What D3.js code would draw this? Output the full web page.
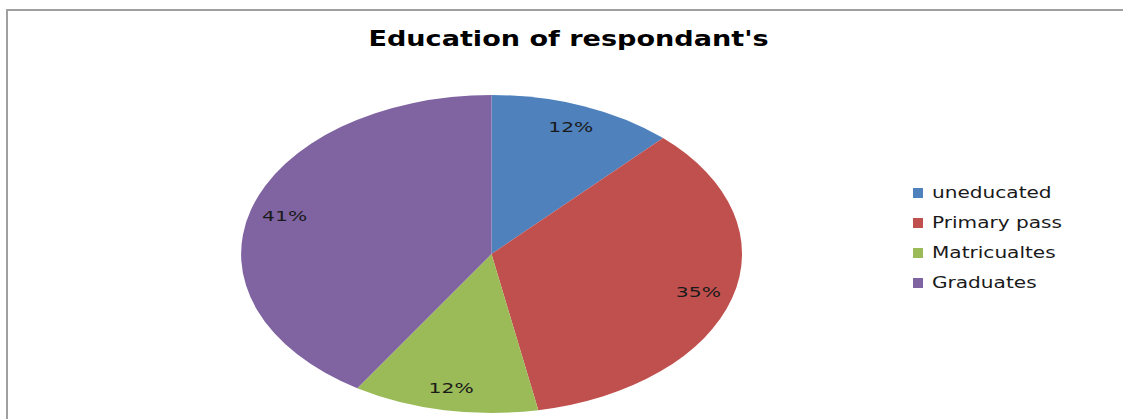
<!DOCTYPE html>
<html>
<head>
<meta charset="utf-8">
<script src="https://cdn.jsdelivr.net/npm/d3@7"></script>
<style>
  body { margin: 0; background: #fff; }
  svg { display: block; }
</style>
</head>
<body>
<div id="chart"></div>
<script>
const categories = ['uneducated', 'Primary pass', 'Matricualtes', 'Graduates']
const values = [12, 35, 12, 41]
const colors = ['#4F81BD', '#C0504D', '#9BBB59', '#8064A2']

const width = 1123
const height = 419
const cx = 491.5, cy = 254
const rx = 250.5, ry = 159
// the original picture is stretched sideways, text included
const stretch = 1.34

const svg = d3.select('#chart').append('svg')
    .attr('width', width)
    .attr('height', height)

// chart frame
svg.append('rect')
    .attr('x', 7)
    .attr('y', 10)
    .attr('width', width + 20)
    .attr('height', height + 20)
    .attr('fill', '#fff')
    .attr('stroke', '#a0a0a0')
    .attr('stroke-width', 2)

svg.append('text')
    .attr('transform', `translate(568.5,46) scale(1.29,1)`)
    .attr('text-anchor', 'middle')
    .style('font-family', 'DejaVu Sans, Verdana, sans-serif')
    .style('font-weight', 'bold')
    .style('font-size', '21px')
    .text("Education of respondant's")

const pie = d3.pie().sort(null).value(d => d)
const arcs = pie(values)
const arc = d3.arc().innerRadius(0).outerRadius(1)
const labelArc = d3.arc().innerRadius(0.86).outerRadius(0.86)

// pie drawn on a unit circle, then stretched into the plot area's ellipse
const g = svg.append('g')
    .attr('transform', `translate(${cx},${cy}) scale(${rx},${ry})`)

g.selectAll('.slice')
    .data(arcs)
    .enter()
    .append('path')
    .attr('class', 'slice')
    .attr('d', arc)
    .attr('fill', (d, i) => colors[i])

svg.selectAll('.pct')
    .data(arcs)
    .enter()
    .append('text')
    .attr('class', 'pct')
    .attr('transform', d => {
      let c = labelArc.centroid(d)
      return `translate(${cx + c[0] * rx},${cy + c[1] * ry + 5}) scale(1.45,1)`
    })
    .attr('text-anchor', 'middle')
    .style('font-family', 'DejaVu Sans, Verdana, sans-serif')
    .style('font-size', '14px')
    .style('fill', '#1a1a1a')
    .text(d => d.data + '%')

const legend = svg.selectAll('.legend')
    .data(categories)
    .enter()
    .append('g')
    .attr('class', 'legend')
    .attr('transform', (d, i) => `translate(913,${193 + i * 30})`)

legend.append('rect')
    .attr('x', 0)
    .attr('y', -5)
    .attr('width', 10)
    .attr('height', 10)
    .attr('fill', (d, i) => colors[i])

legend.append('text')
    .attr('transform', `translate(19,5) scale(${stretch},1)`)
    .style('font-family', 'DejaVu Sans, Verdana, sans-serif')
    .style('font-size', '15px')
    .style('fill', '#1a1a1a')
    .text(d => d)
</script>
</body>
</html>
